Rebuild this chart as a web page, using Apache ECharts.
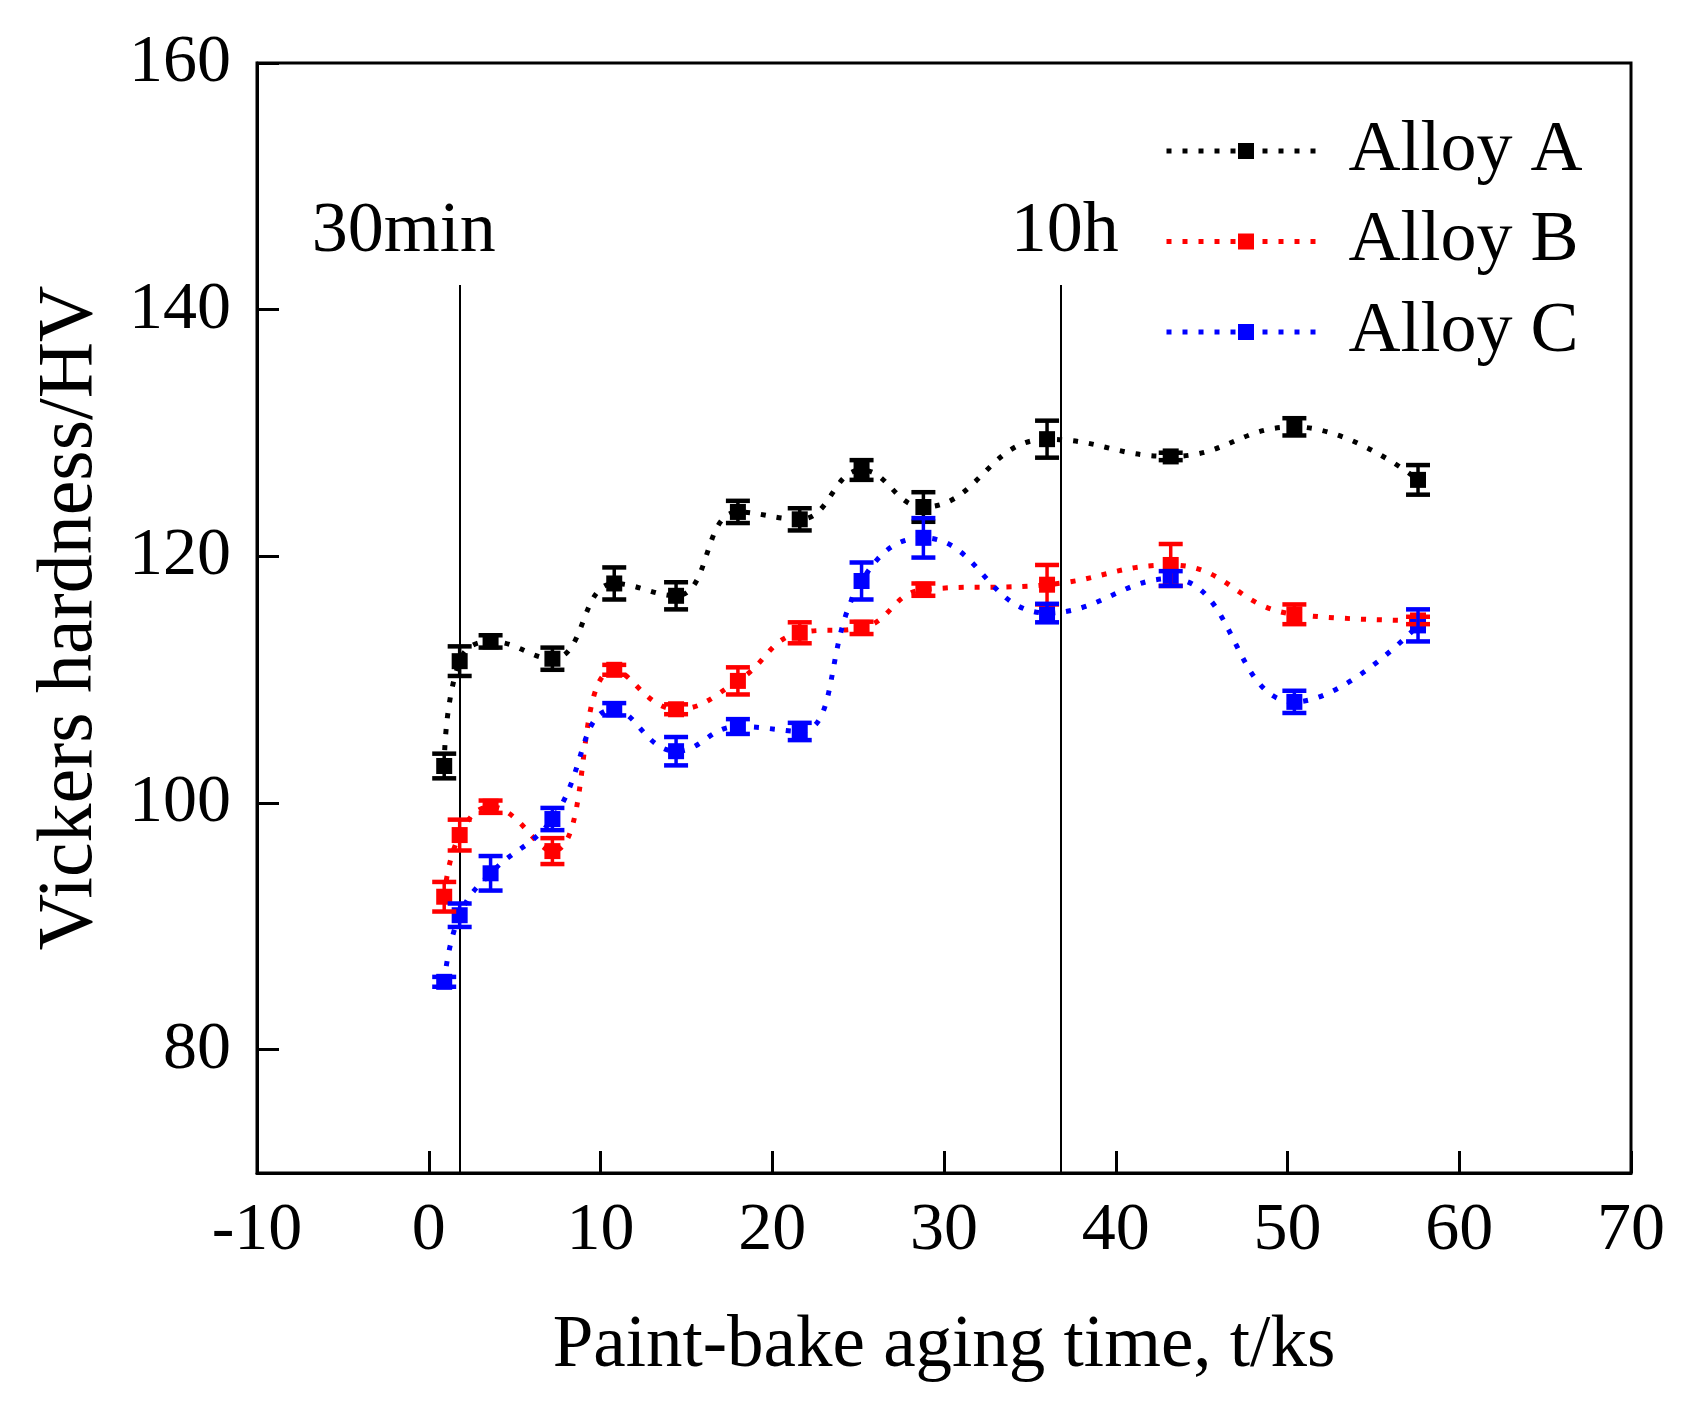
<!DOCTYPE html>
<html>
<head>
<meta charset="utf-8">
<script src="https://cdn.jsdelivr.net/npm/echarts@6/dist/echarts.min.js"></script>
<style>
html,body{margin:0;padding:0;background:#fff;}
#chart{width:1688px;height:1419px;}
</style>
</head>
<body>
<div id="chart"></div>
<script>
// ---- data ----
const agingTime = [0.9, 1.8, 3.6, 7.2, 10.8, 14.4, 18.0, 21.6, 25.2, 28.8, 36.0, 43.2, 50.4, 57.6];

const alloyA    = [103.0, 111.5, 113.1, 111.7, 117.8, 116.8, 123.6, 123.0, 127.0, 124.0, 129.5, 128.1, 130.5, 126.2];
const alloyAErr = [1.0, 1.2, 0.5, 0.9, 1.3, 1.1, 0.9, 0.9, 0.8, 1.2, 1.5, 0.3, 0.7, 1.2];

const alloyB    = [92.4, 97.4, 99.7, 96.1, 110.8, 107.6, 109.9, 113.8, 114.2, 117.3, 117.7, 119.3, 115.3, 114.8];
const alloyBErr = [1.2, 1.25, 0.5, 1.05, 0.4, 0.4, 1.1, 0.85, 0.5, 0.5, 1.6, 1.7, 0.8, 0.3];

const alloyC    = [85.5, 90.9, 94.3, 98.7, 107.6, 104.2, 106.2, 105.8, 118.0, 121.5, 115.4, 118.2, 108.2, 114.4];
const alloyCErr = [0.4, 0.95, 1.4, 0.9, 0.5, 1.15, 0.6, 0.7, 1.5, 1.6, 0.75, 0.6, 0.9, 1.3];

const seriesNames = ['Alloy A', 'Alloy B', 'Alloy C'];
const yTickValues = [80, 100, 120, 140, 160];
const guideX      = [1.8, 36.8];
const guideLabels = ['30min', '10h'];
const guideTop    = 142;

// ---- styling ----
const FONT = 'Liberation Serif';
const colors = ['#000000', '#ff0000', '#0000ff'];

function pairs(ys) { return agingTime.map((x, i) => [x, ys[i]]); }
function errRows(ys, es) { return agingTime.map((x, i) => [x, ys[i] - es[i], ys[i] + es[i]]); }

function errRender(color) {
  return function (params, api) {
    const x = api.value(0), lo = api.value(1), hi = api.value(2);
    const pLo = api.coord([x, lo]);
    const pHi = api.coord([x, hi]);
    const hw = 12;
    const capStyle = { stroke: color, lineWidth: 4.5 };
    return {
      type: 'group',
      children: [
        { type: 'line', shape: { x1: pLo[0], y1: pLo[1], x2: pHi[0], y2: pHi[1] }, style: { stroke: color, lineWidth: 3.5 } },
        { type: 'line', shape: { x1: pHi[0] - hw, y1: pHi[1], x2: pHi[0] + hw, y2: pHi[1] }, style: capStyle },
        { type: 'line', shape: { x1: pLo[0] - hw, y1: pLo[1], x2: pLo[0] + hw, y2: pLo[1] }, style: capStyle }
      ]
    };
  };
}

const values = [alloyA, alloyB, alloyC];
const errs = [alloyAErr, alloyBErr, alloyCErr];

const lineSeries = seriesNames.map((name, k) => ({
  name: name,
  type: 'line',
  data: pairs(values[k]),
  smooth: 0.45,
  symbol: 'rect',
  symbolSize: 16,
  z: 4,
  itemStyle: { color: colors[k] },
  lineStyle: { color: colors[k], width: 5, type: [5, 11], cap: 'butt' }
}));

const errSeries = seriesNames.map((name, k) => ({
  name: name + ' err',
  type: 'custom',
  data: errRows(values[k], errs[k]),
  encode: { x: 0, y: [1, 2] },
  renderItem: errRender(colors[k]),
  z: 5
}));

const guideSeries = {
  name: 'guides',
  type: 'line',
  data: [],
  silent: true,
  markLine: {
    silent: true,
    symbol: ['none', 'none'],
    animation: false,
    lineStyle: { color: '#000', width: 2, type: 'solid' },
    data: guideX.map((gx, i) => [
      { coord: [gx, 70] },
      {
        coord: [gx, guideTop],
        label: {
          show: true,
          position: 'end',
          formatter: guideLabels[i],
          distance: 17,
          offset: i === 0 ? [-56, 0] : [4, 0],
          fontFamily: FONT,
          fontSize: 72,
          lineHeight: 72,
          color: '#000'
        }
      }
    ])
  }
};

const chart = echarts.init(document.getElementById('chart'), null, { renderer: 'canvas' });
chart.setOption({
  animation: false,
  backgroundColor: '#ffffff',
  grid: {
    left: 257, right: 57, top: 63, bottom: 246,
    show: true, borderColor: '#000', borderWidth: 3, backgroundColor: 'transparent'
  },
  legend: {
    data: seriesNames,
    orient: 'vertical',
    left: 1159,
    top: 110,
    itemWidth: 159,
    itemHeight: 20,
    itemGap: 18.5,
    selectedMode: false,
    lineStyle: { width: 5, type: [5, 11], cap: 'butt' },
    textStyle: { fontFamily: FONT, fontSize: 72, lineHeight: 72, color: '#000', padding: [0, 0, 0, 18] }
  },
  xAxis: {
    type: 'value',
    min: -10, max: 70, interval: 10,
    name: 'Paint-bake aging time, t/ks',
    nameLocation: 'middle',
    nameGap: 137,
    nameTextStyle: { fontFamily: FONT, fontSize: 73, lineHeight: 73, color: '#000' },
    axisLine: { show: true, onZero: false, lineStyle: { color: '#000', width: 3 } },
    axisTick: { show: true, inside: true, length: 22, lineStyle: { color: '#000', width: 3 } },
    axisLabel: { fontFamily: FONT, fontSize: 68, lineHeight: 68, color: '#000', margin: 24 },
    splitLine: { show: false }
  },
  yAxis: {
    type: 'value',
    min: 70, max: 160,
    name: 'Vickers hardness/HV',
    nameLocation: 'middle',
    nameGap: 147,
    nameTextStyle: { fontFamily: FONT, fontSize: 78, lineHeight: 78, color: '#000' },
    axisLine: { show: true, onZero: false, lineStyle: { color: '#000', width: 3 } },
    axisTick: { show: true, inside: true, length: 22, customValues: yTickValues, lineStyle: { color: '#000', width: 3 } },
    axisLabel: { fontFamily: FONT, fontSize: 68, lineHeight: 68, color: '#000', margin: 26, customValues: yTickValues },
    splitLine: { show: false }
  },
  series: [guideSeries].concat(lineSeries, errSeries)
});
</script>
</body>
</html>
